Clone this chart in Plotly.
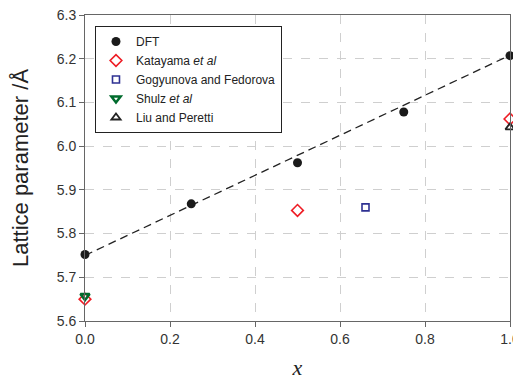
import plotly.graph_objects as go

dft_x = [0.0, 0.25, 0.5, 0.75, 1.0]
dft_y = [5.752, 5.868, 5.962, 6.078, 6.207]
fit_x = [0.0, 1.0]
fit_y = [5.75, 6.208]
kat_x = [0.0, 0.5, 1.0]
kat_y = [5.650, 5.853, 6.062]
gog_x = [0.66]
gog_y = [5.860]
shu_x = [0.0]
shu_y = [5.657]
liu_x = [1.0]
liu_y = [6.043]

fig = go.Figure()
fig.add_trace(go.Scatter(x=fit_x, y=fit_y, mode="lines", showlegend=False,
                         line=dict(color="#222", width=1.3, dash="8px,5px"), cliponaxis=False))
fig.add_trace(go.Scatter(x=dft_x, y=dft_y, mode="markers", name="DFT",
                         marker=dict(symbol="circle", size=9, color="#1a1a1a"), cliponaxis=False))
fig.add_trace(go.Scatter(x=kat_x, y=kat_y, mode="markers", name="Katayama <i>et al</i>",
                         marker=dict(symbol="diamond-open", size=9, color="#ee1c24", line=dict(width=1.6)), cliponaxis=False))
fig.add_trace(go.Scatter(x=gog_x, y=gog_y, mode="markers", name="Gogyunova and Fedorova",
                         marker=dict(symbol="square-open", size=7, color="#2e3192", line=dict(width=1.6)), cliponaxis=False))
fig.add_trace(go.Scatter(x=shu_x, y=shu_y, mode="markers", name="Shulz <i>et al</i>",
                         marker=dict(symbol="triangle-down-open", size=8, color="#006b2d", line=dict(width=2.5)), cliponaxis=False))
fig.add_trace(go.Scatter(x=liu_x, y=liu_y, mode="markers", name="Liu and Peretti",
                         marker=dict(symbol="triangle-up-open", size=8, color="#222", line=dict(width=1.8)), cliponaxis=False))

axis_common = dict(showline=True, linecolor="#666", linewidth=1, mirror=True,
                   ticks="outside", ticklen=5, tickcolor="#666", automargin=False,
                   ticklabeloverflow="allow",
                   showgrid=True, gridcolor="#cfcfcf", griddash="dash", gridwidth=1,
                   zeroline=False, tickfont=dict(family="Arial, Liberation Sans", size=14, color="#333"))

fig.update_layout(
    width=513, height=372,
    margin=dict(l=77, r=11, t=7, b=59),
    plot_bgcolor="white", paper_bgcolor="white",
    xaxis=dict(range=[0, 1], dtick=0.2, tickformat=".1f",
               title=dict(text="<i>x</i>", font=dict(family="Liberation Serif, Times New Roman", size=22, color="#222"), standoff=17),
               **axis_common),
    yaxis=dict(range=[5.6, 6.3], dtick=0.1, tickformat=".1f",
               title=dict(text="Lattice parameter /Å", font=dict(family="Arial, Liberation Sans", size=22, color="#222"), standoff=26),
               **axis_common),
    legend=dict(x=0.0235, y=0.964, xanchor="left", yanchor="top",
                bordercolor="#222", borderwidth=1, bgcolor="white",
                font=dict(family="Arial, Liberation Sans", size=12, color="#222"),
                tracegroupgap=0, itemsizing="trace"),
)

fig.write_html("out.html")
